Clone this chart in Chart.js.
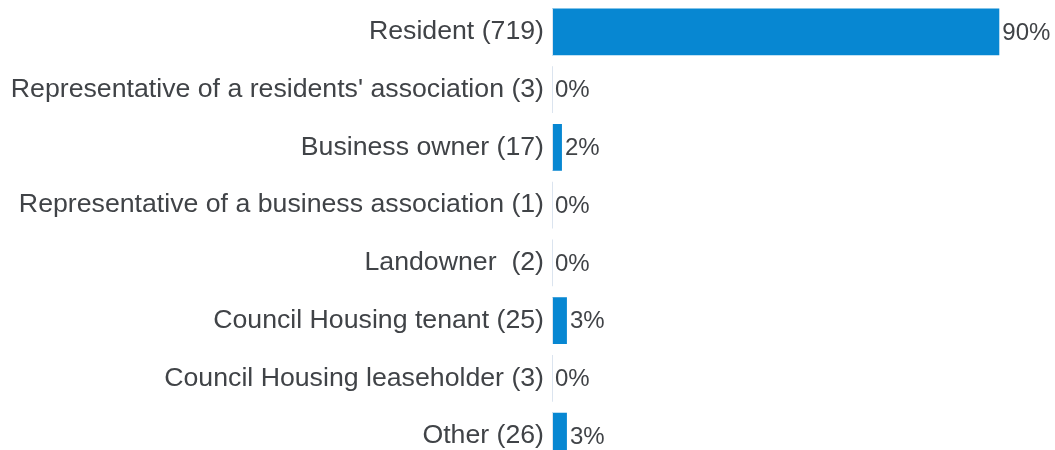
<!DOCTYPE html>
<html>
<head>
<meta charset="utf-8">
<script src="https://cdn.jsdelivr.net/npm/chart.js@4"></script>
<style>
  body { margin: 0; background: #fff; overflow: hidden; }
  #wrap { position: absolute; left: 0; top: 0; width: 1055px; height: 468px; }
</style>
</head>
<body>
<div id="wrap"><canvas id="myChart"></canvas></div>
<script>
const categories = [
  "Resident (719)",
  "Representative of a residents' association (3)",
  "Business owner (17)",
  "Representative of a business association (1)",
  "Landowner  (2)",
  "Council Housing tenant (25)",
  "Council Housing leaseholder (3)",
  "Other (26)",
];
const percents = [90, 0, 2, 0, 0, 3, 0, 3];
const percentLabels = ["90%", "0%", "2%", "0%", "0%", "3%", "0%", "3%"];

const barColor = "#0787d2";
const textColor = "#404347";
const fontFamily = "'Liberation Sans', Arial, sans-serif";

// percent text next to each bar + the thin left line per row
const barLabels = {
  id: "barLabels",
  afterDatasetsDraw(chart) {
    const ctx = chart.ctx;
    const meta = chart.getDatasetMeta(0);
    const left = chart.chartArea.left;
    ctx.save();
    ctx.strokeStyle = "#dbe4ef";
    ctx.lineWidth = 1;
    meta.data.forEach((bar) => {
      const h = bar.height;
      ctx.beginPath();
      ctx.moveTo(left + 0.5, bar.y - h / 2);
      ctx.lineTo(left + 0.5, bar.y + h / 2);
      ctx.stroke();
    });
    ctx.fillStyle = textColor;
    ctx.font = "24px " + fontFamily;
    ctx.textBaseline = "middle";
    ctx.textAlign = "left";
    meta.data.forEach((bar, i) => {
      ctx.fillText(percentLabels[i], Math.max(bar.x, left) + 3, bar.y + 1);
    });
    ctx.restore();
  },
};

const ctx = document.getElementById("myChart");
const myChart = new Chart(ctx, {
  type: "bar",
  data: {
    labels: categories,
    datasets: [
      {
        data: percents,
        backgroundColor: barColor,
        borderWidth: 0,
        barPercentage: 0.81,
        categoryPercentage: 1,
      },
    ],
  },
  options: {
    indexAxis: "y",
    responsive: true,
    maintainAspectRatio: false,
    animation: false,
    layout: { padding: { top: 3, right: 6, bottom: 3, left: 0 } },
    plugins: {
      legend: { display: false },
      tooltip: { enabled: false },
    },
    scales: {
      x: {
        display: false,
        min: 0,
        max: 100,
      },
      y: {
        afterFit(scale) {
          scale.width = 552;
          scale.paddingTop = 0;
          scale.paddingBottom = 0;
        },
        grid: { display: false },
        border: { display: false },
        ticks: {
          padding: 0,
          color: textColor,
          font: { family: fontFamily, size: 26.7 },
        },
      },
    },
  },
  plugins: [barLabels],
});
</script>
</body>
</html>
